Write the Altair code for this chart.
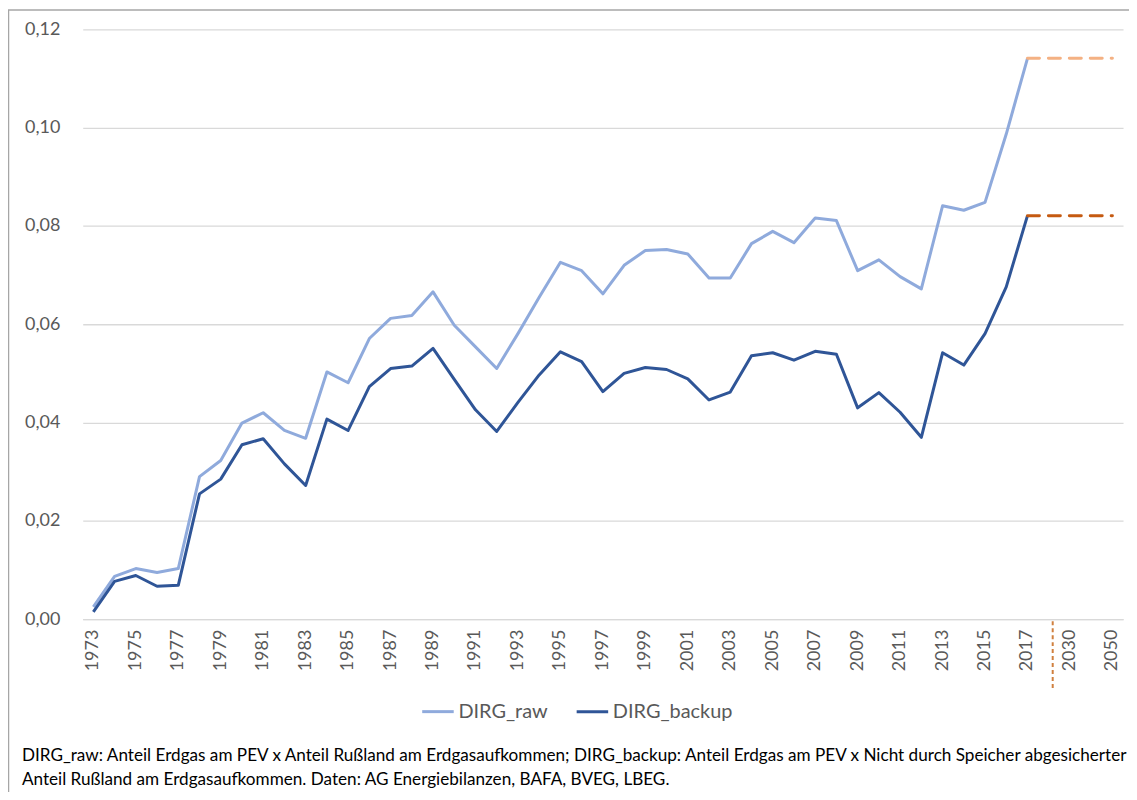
import altair as alt
import pandas as pd

years = [str(y) for y in range(1973, 2018)]
extra_cats = ["2020", "2030", "2040", "2050"]
categories = years + extra_cats
label_years = [str(y) for y in range(1973, 2018, 2)] + ["2030", "2050"]

dirg_raw = [0.0025, 0.0087, 0.0103, 0.0095, 0.0103,
            0.0290, 0.0323, 0.0399, 0.0420, 0.0384,
            0.0368, 0.0503, 0.0481, 0.0571, 0.0612,
            0.0618, 0.0666, 0.0598, 0.0554, 0.0510,
            0.0581, 0.0655, 0.0726, 0.0709, 0.0662,
            0.0720, 0.0750, 0.0752, 0.0743, 0.0694,
            0.0694, 0.0764, 0.0789, 0.0766, 0.0816,
            0.0811, 0.0709, 0.0731, 0.0697, 0.0672,
            0.0841, 0.0832, 0.0848, 0.0987, 0.1141]
dirg_backup = [0.0015, 0.0077, 0.0089, 0.0067, 0.0069,
               0.0255, 0.0285, 0.0355, 0.0367, 0.0316,
               0.0272, 0.0407, 0.0384, 0.0473, 0.0510,
               0.0515, 0.0551, 0.0488, 0.0426, 0.0382,
               0.0441, 0.0497, 0.0544, 0.0524, 0.0463,
               0.0500, 0.0512, 0.0508, 0.0489, 0.0446,
               0.0462, 0.0536, 0.0542, 0.0527, 0.0545,
               0.0539, 0.0430, 0.0461, 0.0421, 0.0370,
               0.0542, 0.0517, 0.0581, 0.0676, 0.0821]

proj_years = ["2017", "2050"]
proj_raw = [0.1141, 0.1141]
proj_backup = [0.0821, 0.0821]

divider_cat = ["2020"]

caption_1 = "DIRG_raw: Anteil Erdgas am PEV x Anteil Rußland am Erdgasaufkommen; DIRG_backup: Anteil Erdgas am PEV x Nicht durch Speicher abgesicherter"
caption_2 = "Anteil Rußland am Erdgasaufkommen. Daten: AG Energiebilanzen, BAFA, BVEG, LBEG."

series_names = ["DIRG_raw", "DIRG_backup"]
series_colors = ["#8FAADC", "#2F5597"]

hist = pd.DataFrame({
    "Jahr": years * 2,
    "Wert": dirg_raw + dirg_backup,
    "Reihe": ["DIRG_raw"] * len(years) + ["DIRG_backup"] * len(years),
})
proj_r = pd.DataFrame({"Jahr": proj_years, "Wert": proj_raw})
proj_b = pd.DataFrame({"Jahr": proj_years, "Wert": proj_backup})
div_df = pd.DataFrame({"Jahr": divider_cat})

x_enc = alt.X("Jahr:O", sort=categories,
              scale=alt.Scale(domain=categories),
              axis=alt.Axis(title=None, values=label_years, labelAngle=270,
                            labelPadding=10, labelFontSize=18, labelColor="#595959",
                            ticks=False, tickSize=0, grid=False,
                            domainColor="#D9D9D9", domainWidth=1.3))
y_enc = alt.Y("Wert:Q",
              scale=alt.Scale(domain=[0, 0.12], nice=False),
              axis=alt.Axis(title=None, values=[0, 0.02, 0.04, 0.06, 0.08, 0.10, 0.12],
                            labelExpr="replace(format(datum.value, '.2f'), '.', ',')",
                            labelPadding=23, labelFontSize=18, labelColor="#595959",
                            ticks=False, tickSize=0, domain=False,
                            grid=True, gridColor="#D9D9D9", gridWidth=1.3))

lines = alt.Chart(hist).mark_line(strokeWidth=3, strokeJoin="round").encode(
    x=x_enc, y=y_enc,
    color=alt.Color("Reihe:N", sort=series_names,
                    scale=alt.Scale(domain=series_names, range=series_colors),
                    legend=alt.Legend(title=None, orient="none", direction="horizontal",
                                      legendX=339, legendY=667, padding=0,
                                      symbolType="stroke", symbolStrokeWidth=3,
                                      symbolSize=1000, labelFontSize=20,
                                      labelColor="#595959", labelOffset=3,
                                      columnPadding=22)),
    order=alt.Order("Jahr:O"),
)

dash_r = alt.Chart(proj_r).mark_line(strokeWidth=3, strokeDash=[12, 9], strokeCap="round",
                                     color="#F4B183").encode(x="Jahr:O", y="Wert:Q")
dash_b = alt.Chart(proj_b).mark_line(strokeWidth=3, strokeDash=[12, 9], strokeCap="round",
                                     color="#C55A11").encode(x="Jahr:O", y="Wert:Q")

divider = alt.Chart(div_df).mark_rule(color="#D0803F", strokeWidth=2, strokeDash=[4, 3],
                                      xOffset=4).encode(
    x="Jahr:O", y=alt.value(594), y2=alt.value(662))

cap1 = alt.Chart(pd.DataFrame({"t": [caption_1]})).mark_text(
    align="left", baseline="middle", fontSize=17.2, color="#000000").encode(
    text="t:N", x=alt.value(-61), y=alt.value(729))
cap2 = alt.Chart(pd.DataFrame({"t": [caption_2]})).mark_text(
    align="left", baseline="middle", fontSize=17.2, color="#000000").encode(
    text="t:N", x=alt.value(-61), y=alt.value(753))

frame = alt.Chart(pd.DataFrame({"f": [0]})).mark_rect(
    fill="transparent", stroke="#A6A6A6", strokeWidth=1.5).encode(
    x=alt.value(-74.5), x2=alt.value(1300), y=alt.value(-19.5), y2=alt.value(1000))

chart = alt.layer(lines, dash_r, dash_b, divider, cap1, cap2, frame).properties(
    width=1044, height=592,
    autosize=alt.AutoSizeParams(type="none"),
    padding={"left": 75, "top": 20, "right": 6, "bottom": 172},
).configure(font="Lato").configure_view(stroke=None)

chart.save("out.html", embed_options={"renderer": "svg", "actions": False})
